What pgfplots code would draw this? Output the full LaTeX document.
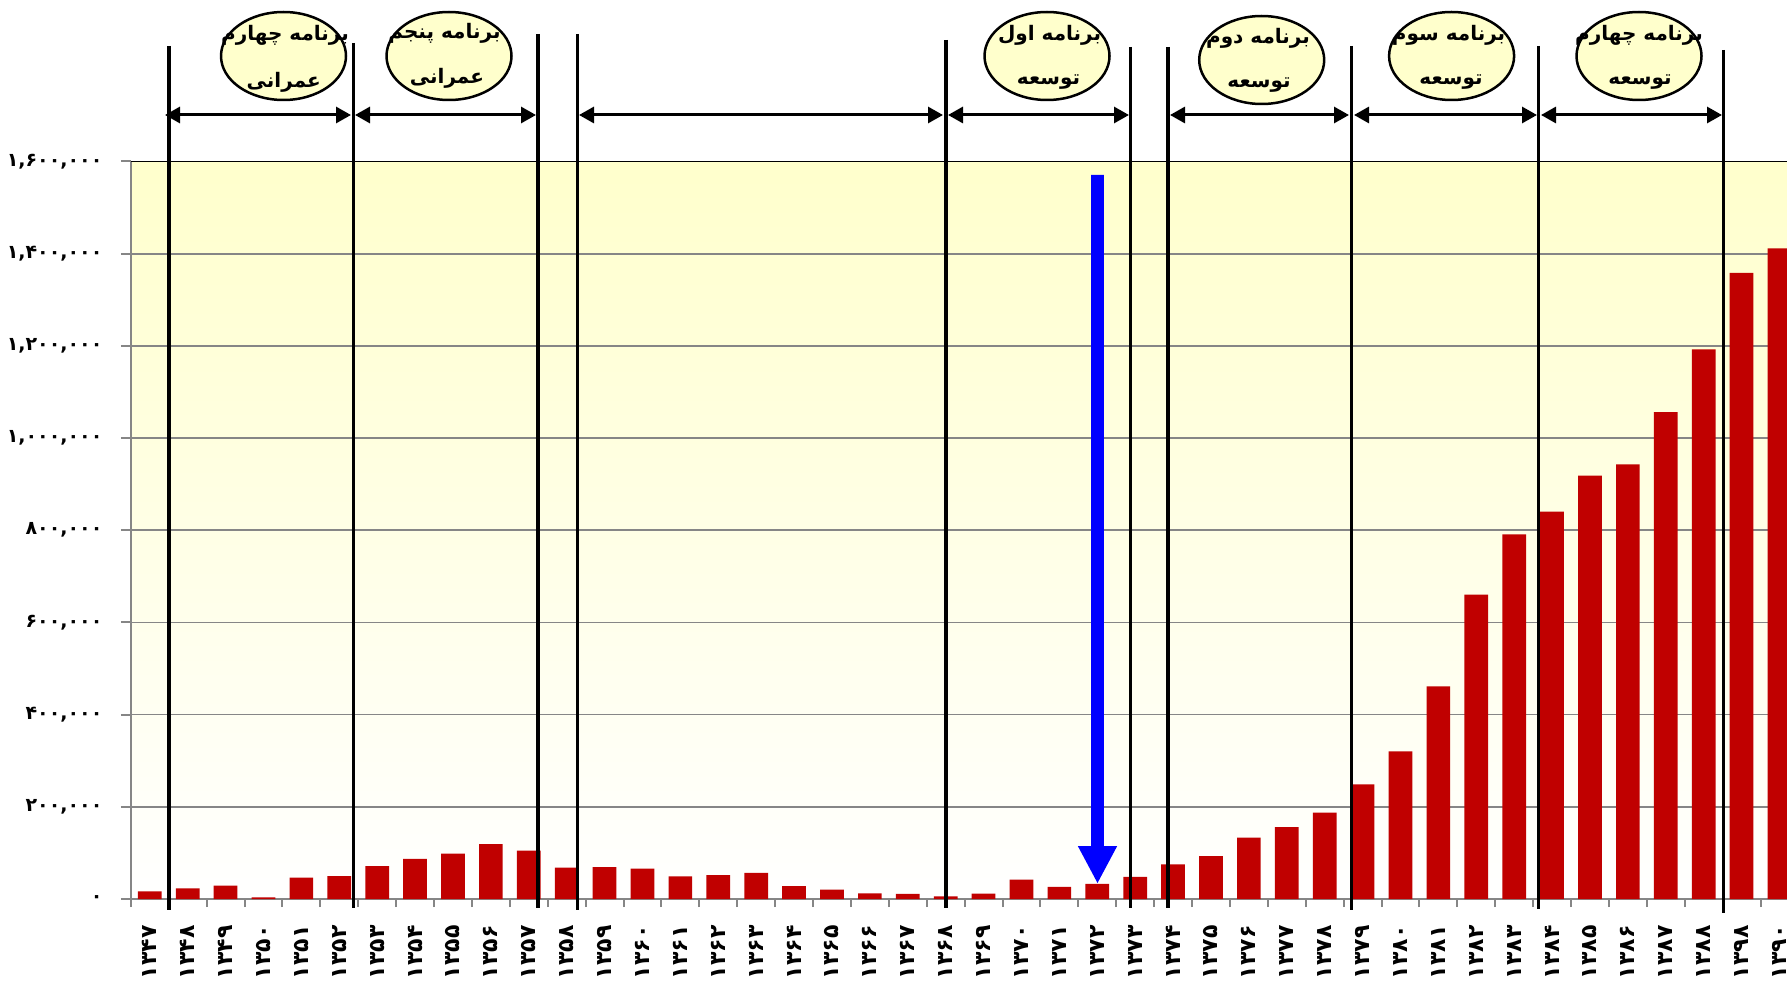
\documentclass[border=0pt]{standalone}
\usepackage{pgfplots}
\pgfplotsset{compat=1.18}
\usepackage{fontspec}
\usetikzlibrary{arrows.meta}
\TeXXeTstate=1
\newfontfamily\fa[Script=Arabic]{DejaVu Sans}
\definecolor{barred}{RGB}{192,0,0}
\definecolor{gridgray}{RGB}{134,134,134}
\definecolor{ellfill}{RGB}{255,255,204}
\definecolor{bgyellow}{RGB}{255,255,204}
\begin{document}
\begin{tikzpicture}
\begin{axis}[
  at={(65.4pt,41.5pt)}, anchor=south west,
  scale only axis, width=833.8pt, height=368.75pt,
  xmin=-0.5, xmax=43.5, ymin=0, ymax=1600000,
  ybar, bar width=11.85pt,
  axis lines*=left,
  axis line style={gridgray, line width=1.3pt},
  axis background/.style={top color=bgyellow, middle color=white, bottom color=white},
  tick align=outside,
  major tick length=5pt, minor tick length=4pt,
  ytick={0,200000,400000,600000,800000,1000000,1200000,1400000,1600000},
  yticklabels={{۰},{۲۰۰,۰۰۰},{۴۰۰,۰۰۰},{۶۰۰,۰۰۰},{۸۰۰,۰۰۰},{۱,۰۰۰,۰۰۰},{۱,۲۰۰,۰۰۰},{۱,۴۰۰,۰۰۰},{۱,۶۰۰,۰۰۰}},
  ytick style={gridgray, line width=1pt},
  yticklabel style={font=\fa\bfseries\fontsize{9.5}{9.5}\selectfont, anchor=east, inner sep=0pt},
  yticklabel shift=9pt,
  scaled y ticks=false,
  ymajorgrids, major grid style={gridgray, line width=0.85pt},
  xtick={0,...,43},
  xticklabels={۱۳۴۷,۱۳۴۸,۱۳۴۹,۱۳۵۰,۱۳۵۱,۱۳۵۲,۱۳۵۳,۱۳۵۴,۱۳۵۵,۱۳۵۶,۱۳۵۷,۱۳۵۸,۱۳۵۹,۱۳۶۰,۱۳۶۱,۱۳۶۲,۱۳۶۳,۱۳۶۴,۱۳۶۵,۱۳۶۶,۱۳۶۷,۱۳۶۸,۱۳۶۹,۱۳۷۰,۱۳۷۱,۱۳۷۲,۱۳۷۳,۱۳۷۴,۱۳۷۵,۱۳۷۶,۱۳۷۷,۱۳۷۸,۱۳۷۹,۱۳۸۰,۱۳۸۱,۱۳۸۲,۱۳۸۳,۱۳۸۴,۱۳۸۵,۱۳۸۶,۱۳۸۷,۱۳۸۸,۱۳۹۸,۱۳۹۰},
  major x tick style={draw=none},
  minor xtick={-0.5,0.5,...,43.5},
  minor x tick style={gridgray, line width=1pt},
  xticklabel style={rotate=90, anchor=east, inner sep=0pt, font=\fa\bfseries\fontsize{11}{11}\selectfont},
  xticklabel shift=8pt,
]
\addplot[fill=barred, draw=none] coordinates {
(0,16700) (1,23300) (2,29100) (3,3600) (4,46500) (5,49500) (6,71300) (7,87300)
(8,98200) (9,119300) (10,104700) (11,68000) (12,69000) (13,66000) (14,49000) (15,52000)
(16,56500) (17,28000) (18,20400) (19,12400) (20,10900) (21,5800) (22,11700) (23,42300)
(24,26300) (25,32800) (26,48200) (27,75000) (28,93300) (29,133000) (30,156200) (31,187300)
(32,248700) (33,320300) (34,461300) (35,660200) (36,791000) (37,840200) (38,918300) (39,943000)
(40,1056400) (41,1192400) (42,1358600) (43,1411400)};
\draw[black, line width=1pt] (axis cs:-0.5,1600000) -- (axis cs:43.5,1600000);
\end{axis}
\begin{scope}[x=0.5pt, y=-0.5pt, yshift=491pt]
  % vertical separator lines
  \foreach \xx/\tt/\bb in {168.7/46/910, 353.3/43/908, 537.7/34/908, 577.5/34/910, 946/40/908, 1130.6/47/908, 1168/47/908, 1351.3/46/910, 1538.5/46/909, 1723.3/50/913}
    \draw[black, line width=1.8pt] (\xx,\tt) -- (\xx,\bb);
  % double arrows
  \foreach \xa/\xb in {165/351, 355/536, 579/943, 948/1129, 1170/1349, 1354/1537, 1541/1722}
    \draw[black, line width=1.5pt, {Triangle[length=7.5pt,width=8pt]}-{Triangle[length=7.5pt,width=8pt]}] (\xa,115) -- (\xb,115);
  % ellipses
  \foreach \cx/\cy in {283.5/56, 449/56, 1047/56, 1261.7/60, 1451.6/56, 1639/56}
    \draw[black, line width=1.25pt, fill=ellfill] (\cx,\cy) ellipse [x radius=62.5, y radius=44];
  \tikzset{lbl/.style={font=\fa\bfseries\fontsize{10}{12}\selectfont, inner sep=0pt}}
  \node[lbl] at (285,35) {\beginR برنامه چهارم\endR};
  \node[lbl] at (283.8,82) {\beginR عمرانی\endR};
  \node[lbl] at (444.5,33) {\beginR برنامه پنجم\endR};
  \node[lbl] at (447,78) {\beginR عمرانی\endR};
  \node[lbl] at (1049.6,35) {\beginR برنامه اول\endR};
  \node[lbl] at (1048.5,82) {\beginR توسعه\endR};
  \node[lbl] at (1258,38.5) {\beginR برنامه دوم\endR};
  \node[lbl] at (1259,85.5) {\beginR توسعه\endR};
  \node[lbl] at (1448.6,35) {\beginR برنامه سوم\endR};
  \node[lbl] at (1451,82) {\beginR توسعه\endR};
  \node[lbl] at (1639,35) {\beginR برنامه چهارم\endR};
  \node[lbl] at (1640,82) {\beginR توسعه\endR};
  % blue arrow
  \fill[blue] (1091.2,175) -- (1103.8,175) -- (1103.8,846) -- (1117.2,846) -- (1097.5,883) -- (1077.8,846) -- (1091.2,846) -- cycle;
\end{scope}
\pgfresetboundingbox
\useasboundingbox (0,0) rectangle (893.5pt,491pt);
\end{tikzpicture}
\end{document}
